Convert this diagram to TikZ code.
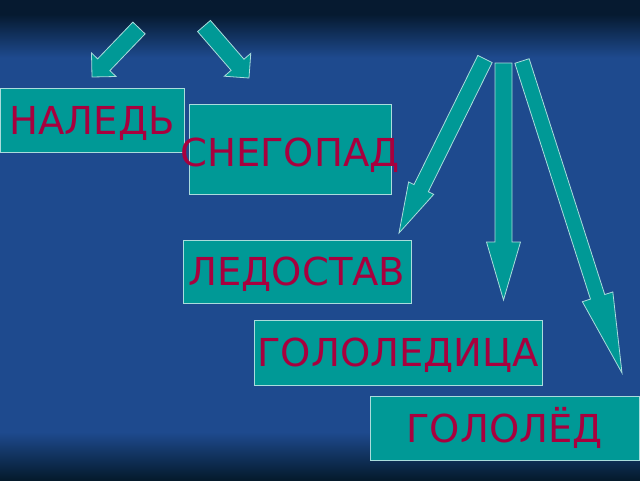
\documentclass[tikz,border=0pt]{standalone}
\usepackage{fontspec}
\setmainfont{DejaVu Sans}
\usetikzlibrary{calc}

\definecolor{bgtop}{RGB}{6,26,48}
\definecolor{bgmid}{RGB}{30,74,142}
\definecolor{bgbot}{RGB}{4,26,44}
\definecolor{tealfill}{RGB}{0,153,150}
\definecolor{tealedge}{RGB}{170,220,220}
\definecolor{wordred}{RGB}{168,0,62}

% path spans 25bp..75bp of the shading
\pgfdeclareverticalshading{slidebg}{100bp}{color(0bp)=(bgbot); color(25bp)=(bgbot); color(30bp)=(bgmid); color(69bp)=(bgmid); color(73.5bp)=(bgtop); color(100bp)=(bgtop)}

% block arrow: tail, tip, half shaft, half head, head length
\newcommand{\blockarrow}[5]{%
  \coordinate (hb) at ($(#2)!#5!(#1)$);
  \filldraw[arrowbody] ($(#1)!#3!90:(#2)$) -- ($(hb)!#3!90:(#2)$) -- ($(hb)!#4!90:(#2)$)
    -- (#2) -- ($(hb)!#4!-90:(#2)$) -- ($(hb)!#3!-90:(#2)$) -- ($(#1)!#3!-90:(#2)$) -- cycle;
}

\begin{document}
\begin{tikzpicture}[x=1pt, y=-1pt,
    wordbox/.style={draw=tealedge, fill=tealfill, line width=0.8pt, inner sep=0pt,
      text=wordred, font=\fontsize{38.5}{42}\selectfont, text height=28pt, text depth=0pt},
    arrowbody/.style={fill=tealfill, draw=tealedge, line width=0.8pt, line join=miter}]
    % Slide background
    \useasboundingbox (0,0) rectangle (640,480);
    \shade[shading=slidebg] (0,0) rectangle (640,480);

    % Arrow ends
    \coordinate (lefttail) at (139,28);
    \coordinate (lefttip) at (92,77);
    \coordinate (righttail) at (204,26);
    \coordinate (righttip) at (249,78);
    \coordinate (fantail1) at (485,59);
    \coordinate (fantip1) at (399,233);
    \coordinate (fantail2) at (503.5,63);
    \coordinate (fantip2) at (503.5,300);
    \coordinate (fantail3) at (522,61);
    \coordinate (fantip3) at (622,373);

    % Block arrows
    \blockarrow{lefttail}{lefttip}{8.5pt}{17pt}{17pt}
    \blockarrow{righttail}{righttip}{8.5pt}{17.5pt}{17.5pt}
    \blockarrow{fantail1}{fantip1}{8pt}{14pt}{50pt}
    \blockarrow{fantail2}{fantip2}{8.5pt}{17pt}{58pt}
    \blockarrow{fantail3}{fantip3}{7.5pt}{16pt}{80pt}

    % Word boxes
    \node[wordbox, minimum width=184pt, minimum height=64pt] (naled) at (92,120) {НАЛЕДЬ};
    \node[wordbox, minimum width=202pt, minimum height=90pt] (snegopad) at (290,149)
      {\raisebox{-3pt}{\makebox[0pt]{СНЕГОПАД}}};
    \node[wordbox, minimum width=228pt, minimum height=63pt] (ledostav) at (297,271.5) {ЛЕДОСТАВ};
    \node[wordbox, minimum width=288pt, minimum height=65pt] (gololedica) at (398,352.5) {ГОЛОЛЕДИЦА};
    \node[wordbox, minimum width=269pt, minimum height=64pt] (gololed) at (504.5,428) {ГОЛОЛЁД};
\end{tikzpicture}
\end{document}
